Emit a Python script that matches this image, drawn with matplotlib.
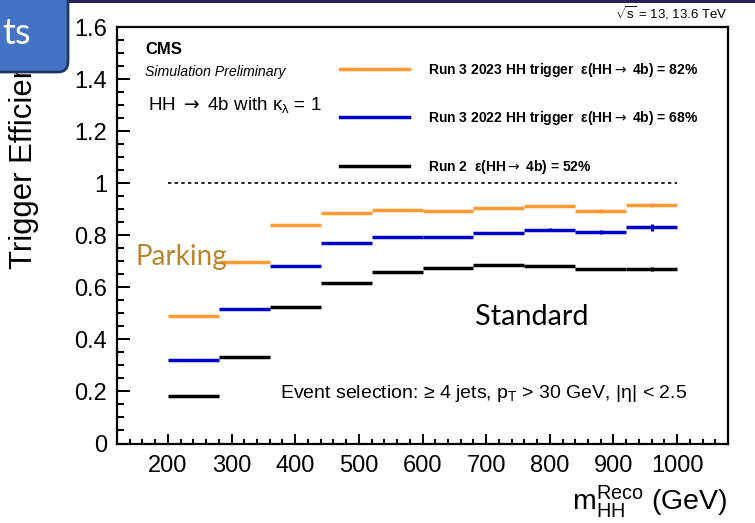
import numpy as np
import matplotlib
matplotlib.use("Agg")
import matplotlib.pyplot as plt
from matplotlib.patches import FancyBboxPatch, Rectangle
from matplotlib.ticker import MultipleLocator, FuncFormatter

plt.rcParams['font.family'] = ['Liberation Sans', 'DejaVu Sans']
plt.rcParams['mathtext.fontset'] = 'custom'
plt.rcParams['mathtext.rm'] = 'Liberation Sans'
plt.rcParams['mathtext.it'] = 'Liberation Sans:italic'
plt.rcParams['mathtext.bf'] = 'Liberation Sans:bold'
plt.rcParams['mathtext.sf'] = 'DejaVu Sans'

# ----- binning in reconstructed m_HH (GeV) -----
bin_edges = np.array([200, 280, 360, 440, 520, 600, 680, 760, 840, 920, 1000])

# ----- trigger efficiencies per bin -----
eff_2023 = [0.490, 0.699, 0.839, 0.885, 0.898, 0.894, 0.903, 0.912, 0.894, 0.916]
err_2023 = [0.004, 0.002, 0.002, 0.002, 0.002, 0.002, 0.003, 0.004, 0.007, 0.009]
eff_2022 = [0.320, 0.516, 0.681, 0.771, 0.795, 0.795, 0.808, 0.822, 0.813, 0.830]
err_2022 = [0.003, 0.003, 0.002, 0.002, 0.002, 0.003, 0.004, 0.005, 0.007, 0.012]
eff_run2 = [0.184, 0.334, 0.524, 0.617, 0.657, 0.676, 0.685, 0.681, 0.670, 0.670]
err_run2 = [0.002, 0.002, 0.002, 0.002, 0.002, 0.002, 0.003, 0.004, 0.005, 0.007]

arrow = r"$\mathsf{\rightarrow}$"
labels = [
    "Run 3 2023 HH trigger  ε(HH" + arrow + " 4b) = 82%",
    "Run 3 2022 HH trigger  ε(HH" + arrow + " 4b) = 68%",
    "Run 2  ε(HH" + arrow + " 4b) = 52%",
]
colors = ["#ff9a33", "#0000cc", "#000000"]

fig = plt.figure(figsize=(7.55, 5.23), dpi=100)
ax = fig.add_axes([117 / 755, 1 - 443.5 / 523, 611 / 755, 416.5 / 523])

centers = 0.5 * (bin_edges[:-1] + bin_edges[1:])
handles = []
for eff, err, col in zip([eff_2023, eff_2022, eff_run2],
                         [err_2023, err_2022, err_run2], colors):
    ax.hlines(eff, bin_edges[:-1], bin_edges[1:], colors=col, linewidth=2.5)
    ax.errorbar(centers, eff, yerr=err, fmt='none', ecolor=col, elinewidth=2.2)
    h, = ax.plot([], [], color=col, linewidth=2.5)
    handles.append(h)

# 100% reference line
ax.hlines(1.0, bin_edges[0], bin_edges[-1], colors='black', linewidth=1.2,
          linestyles=(0, (2, 2)))

ax.set_xlim(120, 1080)
ax.set_ylim(0, 1.6)
ax.xaxis.set_major_locator(MultipleLocator(100))
ax.xaxis.set_minor_locator(MultipleLocator(20))
ax.yaxis.set_major_locator(MultipleLocator(0.2))
ax.yaxis.set_minor_locator(MultipleLocator(0.05))
ax.yaxis.set_major_formatter(FuncFormatter(lambda v, p: "%g" % round(v, 2)))
ax.tick_params(axis='both', which='both', direction='in', top=False, right=False,
               labelsize=17, width=1.4)
ax.tick_params(axis='y', which='major', length=9.5, pad=7)
ax.tick_params(axis='y', which='minor', length=5)
ax.tick_params(axis='x', which='major', length=7, pad=8)
ax.tick_params(axis='x', which='minor', length=3.6)
for sp in ax.spines.values():
    sp.set_linewidth(1.6)

ax.set_xlabel(r"m$_{\rm HH}^{\rm Reco}$ (GeV)", fontsize=20.5, ha='right', va='top')
ax.xaxis.set_label_coords(1.0, -0.095)
ax.set_ylabel("Trigger Efficiency", fontsize=22.3, loc='top')
ax.yaxis.set_label_coords(-0.127, 0.994)

leg = ax.legend(handles, labels, loc='upper left', bbox_to_anchor=(0.365, 0.919),
                frameon=False, prop={'weight': 'bold', 'size': 10},
                handlelength=5.0, handletextpad=1.3, labelspacing=2.2,
                borderpad=0, borderaxespad=0)

tr = ax.transAxes
ax.text((145 - 117) / 611, (443.5 - 49) / 416.5, "CMS", transform=tr,
        fontsize=12, fontweight='bold', va='center')
ax.text((145 - 117) / 611, (443.5 - 72) / 416.5, "Simulation Preliminary",
        transform=tr, fontsize=10.2, style='italic', va='center')
ax.text((148 - 117) / 611, (443.5 - 105) / 416.5,
        "HH " + arrow + r" 4b with κ$_{\rm λ}$ = 1",
        transform=tr, fontsize=13.5, va='center')
ax.text(1.0, 1.012, r"$\sqrt{\rm s}$ = 13, 13.6 TeV", transform=tr,
        fontsize=9.5, ha='right', va='bottom')
ax.text((280 - 117) / 611, (443.5 - 393) / 416.5,
        r"Event selection: ≥ 4 jets, p$_{\rm T}$ > 30 GeV, |η| < 2.5",
        transform=tr, fontsize=14, va='center')

# slide annotations
ax.text((135 - 117) / 611, (443.5 - 257) / 416.5, "Parking", transform=tr,
        fontsize=20, family=['Lato', 'DejaVu Sans'], color='#b8862f', va='center')
ax.text((475 - 117) / 611, (443.5 - 317) / 416.5, "Standard", transform=tr,
        fontsize=20.8, family=['Lato', 'DejaVu Sans'], color='black', va='center')

# slide header strip and title box
inch = fig.dpi_scale_trans
fig.patches.append(Rectangle((0, 5.20), 7.55, 0.05, transform=inch,
                             facecolor='#2b1f5c', edgecolor='none', zorder=5))
fig.patches.append(FancyBboxPatch((-0.3, 4.51), 0.98, 1.0,
                                  boxstyle="round,pad=0,rounding_size=0.1",
                                  transform=inch, facecolor='#4472c4',
                                  edgecolor='#1f3763', linewidth=2, zorder=6))
fig.text(0.31, 5.23 - 0.34, "ts", transform=inch, fontsize=26,
         family=['Lato', 'DejaVu Sans'], color='white', ha='right', va='center',
         zorder=7)

fig.savefig("out.png", dpi=100)
